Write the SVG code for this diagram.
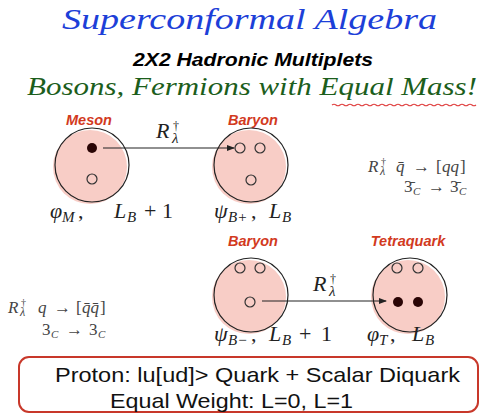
<svg xmlns="http://www.w3.org/2000/svg" width="484" height="419" viewBox="0 0 484 419">
<defs>
<style>
.title{font-family:"Liberation Serif",serif;font-style:italic;fill:#1d3fd8}
.sub{font-family:"Liberation Sans",Arial,sans-serif;font-weight:bold;font-style:italic;font-size:19px;fill:#000}
.green{font-family:"Liberation Serif",serif;font-style:italic;fill:#1c5e1c}
.lab{font-family:"Liberation Sans",Arial,sans-serif;font-weight:bold;font-style:italic;font-size:14.5px;fill:#d23a1e;text-anchor:middle}
.m{font-family:"Liberation Serif",serif;font-size:22px;fill:#222}
.ms{font-family:"Liberation Serif",serif;font-size:17px;fill:#444}
.i{font-style:italic}
.s{font-size:15px}
.ss{font-size:12px}
.pink{fill:#f8cdc6}
.ring{fill:none;stroke:#222;stroke-width:1.2}
.hole{fill:none;stroke:#333;stroke-width:1.2}
.dot{fill:#2a0505}
.conn{stroke:#222;stroke-width:1.2;fill:none}
.box{font-family:"Liberation Sans",Arial,sans-serif;font-size:21px;fill:#111}
</style>
<marker id="ah" markerWidth="8" markerHeight="8" refX="7" refY="4" orient="auto" markerUnits="userSpaceOnUse">
<path d="M0,1 L8,4 L0,7 Z" fill="#222"/>
</marker>
</defs>
<rect width="484" height="419" fill="#fff"/>

<text class="title" x="62" y="29" font-size="30" textLength="375" lengthAdjust="spacingAndGlyphs">Superconformal Algebra</text>
<text class="sub" x="133" y="66" textLength="240" lengthAdjust="spacingAndGlyphs">2X2 Hadronic Multiplets</text>
<text class="green" x="27" y="95" font-size="25" textLength="450" lengthAdjust="spacingAndGlyphs">Bosons, Fermions with Equal Mass!</text>
<path d="M332,105 q2,-1.5 4,0 t4,0 t4,0 t4,0 t4,0 t4,0 t4,0 t4,0 t4,0 t4,0 t4,0 t4,0 t4,0 t4,0 t4,0 t4,0 t4,0 t4,0 t4,0 t4,0 t4,0 t4,0 t4,0 t4,0 t4,0 t4,0 t4,0 t4,0 t4,0 t4,0 t4,0 t4,0 t4,0 t4,0 t4,0 t4,0" fill="none" stroke="#e04040" stroke-width="1.2"/>

<g id="meson">
<text class="lab" x="89" y="125">Meson</text>
<circle class="pink" cx="90" cy="167" r="37"/>
<circle class="ring" cx="92" cy="165" r="37"/>
<circle class="dot" cx="92" cy="148" r="5"/>
<circle class="hole" cx="92" cy="179" r="5"/>
<text class="m" y="218"><tspan class="i" x="50">φ</tspan><tspan class="i s" x="62" dy="4">M</tspan><tspan x="78" dy="-4">,</tspan><tspan class="i" x="114">L</tspan><tspan class="i s" x="127" dy="4">B</tspan><tspan x="144" dy="-4">+</tspan><tspan x="162">1</tspan></text>
</g>

<g id="baryon1">
<text class="lab" x="253" y="125">Baryon</text>
<circle class="pink" cx="249" cy="167" r="37"/>
<circle class="ring" cx="251" cy="165" r="37"/>
<circle class="hole" cx="240" cy="148" r="5"/>
<circle class="hole" cx="260" cy="148" r="5"/>
<circle class="hole" cx="251" cy="180" r="5"/>
<text class="m" y="218"><tspan class="i" x="214">ψ</tspan><tspan class="i s" x="228" dy="4">B+</tspan><tspan x="251" dy="-4">,</tspan><tspan class="i" x="269">L</tspan><tspan class="i s" x="282" dy="4">B</tspan></text>
</g>

<g id="baryon2">
<text class="lab" x="253" y="246">Baryon</text>
<circle class="pink" cx="249" cy="297" r="37"/>
<circle class="ring" cx="251" cy="295" r="37"/>
<circle class="hole" cx="240" cy="268" r="5"/>
<circle class="hole" cx="260" cy="268" r="5"/>
<circle class="hole" cx="250" cy="302" r="5"/>
<text class="m" y="341"><tspan class="i" x="214">ψ</tspan><tspan class="i s" x="228" dy="4">B−</tspan><tspan x="251" dy="-4">,</tspan><tspan class="i" x="269">L</tspan><tspan class="i s" x="282" dy="4">B</tspan><tspan x="299" dy="-4">+</tspan><tspan x="321">1</tspan></text>
</g>

<g id="tetraquark">
<text class="lab" x="408" y="246">Tetraquark</text>
<circle class="pink" cx="408" cy="297" r="37"/>
<circle class="ring" cx="410" cy="295" r="37"/>
<circle class="hole" cx="397" cy="268" r="5"/>
<circle class="hole" cx="418" cy="268" r="5"/>
<circle class="dot" cx="398" cy="302" r="5"/>
<circle class="dot" cx="418" cy="302" r="5"/>
<text class="m" y="341"><tspan class="i" x="367">φ</tspan><tspan class="i s" x="379" dy="4">T</tspan><tspan x="390" dy="-4">,</tspan><tspan class="i" x="412">L</tspan><tspan class="i s" x="425" dy="4">B</tspan></text>
</g>

<g id="connectors">
<line class="conn" x1="103" y1="148" x2="234" y2="148" marker-end="url(#ah)"/>
<text class="m" y="138"><tspan class="i" x="156">R</tspan><tspan class="ss" x="173" dy="-8">†</tspan><tspan class="i s" x="172" dy="13">λ</tspan></text>
<line class="conn" x1="262" y1="301" x2="386" y2="301" marker-end="url(#ah)"/>
<text class="m" y="291"><tspan class="i" x="313">R</tspan><tspan class="ss" x="330" dy="-8">†</tspan><tspan class="i s" x="329" dy="13">λ</tspan></text>
</g>

<g id="note-right">
<text class="ms" y="172"><tspan class="i" x="368">R</tspan><tspan font-size="10" x="381" dy="-7">†</tspan><tspan class="i" font-size="12" x="380" dy="10">λ</tspan><tspan class="i" x="396" dy="-3">q̄</tspan><tspan x="413">→</tspan><tspan x="436">[</tspan><tspan class="i" x="442">qq</tspan><tspan x="460">]</tspan></text>
<text class="ms" y="192"><tspan x="404">3̄</tspan><tspan class="i" font-size="11" x="413" dy="3">C</tspan><tspan x="428" dy="-3">→</tspan><tspan x="450">3̄</tspan><tspan class="i" font-size="11" x="459" dy="3">C</tspan></text>
</g>

<g id="note-left">
<text class="ms" y="313"><tspan class="i" x="8">R</tspan><tspan font-size="10" x="21" dy="-7">†</tspan><tspan class="i" font-size="12" x="20" dy="10">λ</tspan><tspan class="i" x="38" dy="-3">q</tspan><tspan x="54">→</tspan><tspan x="76">[</tspan><tspan class="i" x="82">q̄q̄</tspan><tspan x="100">]</tspan></text>
<text class="ms" y="335"><tspan x="42">3</tspan><tspan class="i" font-size="11" x="51" dy="3">C</tspan><tspan x="66" dy="-3">→</tspan><tspan x="89">3</tspan><tspan class="i" font-size="11" x="98" dy="3">C</tspan></text>
</g>

<g id="proton-box">
<rect x="19" y="357" width="459" height="55" rx="10" fill="#fff" stroke="#c8382a" stroke-width="2"/>
<text class="box" x="55" y="382" textLength="405" lengthAdjust="spacingAndGlyphs">Proton: lu[ud]&gt; Quark + Scalar Diquark</text>
<text class="box" x="110" y="408" textLength="243" lengthAdjust="spacingAndGlyphs">Equal Weight: L=0, L=1</text>
</g>
</svg>
